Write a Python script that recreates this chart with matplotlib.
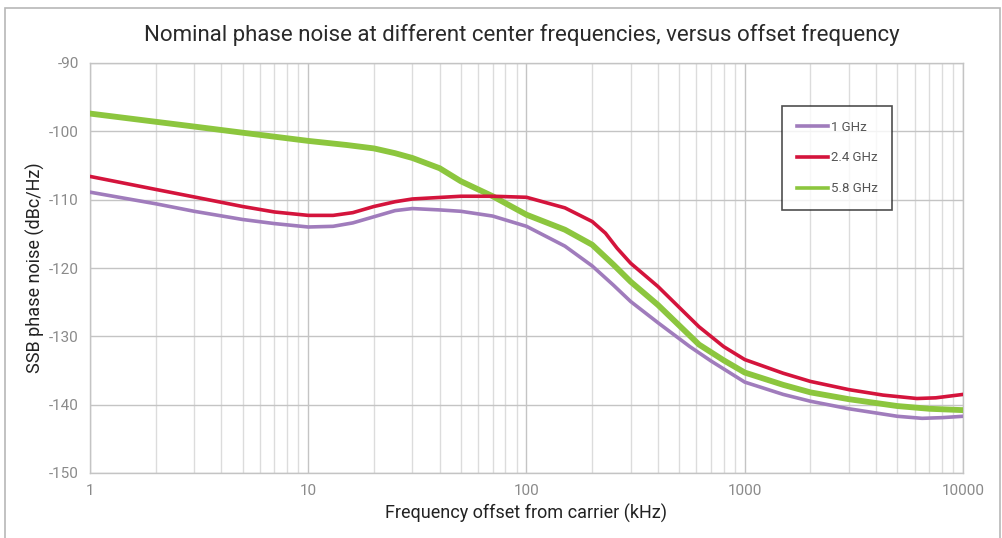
import matplotlib.pyplot as plt
from matplotlib.patches import Rectangle
from matplotlib.ticker import FixedLocator, NullFormatter

# Offset frequency (kHz) and SSB phase noise (dBc/Hz)
freq_1g = [1, 2, 3, 5, 7, 10, 13, 16, 20, 25, 30, 40, 50, 70, 100, 150, 200, 250, 300, 400,
           560, 700, 1000, 1500, 2000, 3000, 5000, 6500, 8000, 10000]
pn_1g = [-108.9, -110.6, -111.7, -112.9, -113.5, -114.0, -113.9, -113.4, -112.5, -111.6, -111.3,
         -111.5, -111.7, -112.4, -113.9, -116.8, -119.7, -122.5, -124.9, -128.0,
         -131.5, -133.6, -136.7, -138.5, -139.5, -140.6, -141.7, -142.0, -141.9, -141.7]

freq_2g4 = [1, 2, 3, 5, 7, 10, 13, 16, 20, 25, 30, 50, 70, 100, 150, 200, 230, 260, 300, 400,
            617, 800, 1000, 1500, 2000, 3000, 4300, 6150, 7500, 10000]
pn_2g4 = [-106.6, -108.5, -109.6, -111.0, -111.8, -112.3, -112.3, -111.9, -111.0, -110.3, -109.9,
          -109.5, -109.5, -109.65, -111.2, -113.2, -114.9, -117.1, -119.3, -122.7,
          -128.6, -131.5, -133.4, -135.4, -136.6, -137.8, -138.6, -139.1, -139.0, -138.5]

freq_5g8 = [1, 2, 3, 5, 10, 15, 20, 25, 30, 40, 50, 70, 100, 150, 200, 250, 300, 400,
            617, 800, 1000, 1500, 2000, 3000, 5000, 7000, 10000]
pn_5g8 = [-97.4, -98.6, -99.3, -100.2, -101.4, -102.0, -102.5, -103.2, -103.9, -105.4, -107.3,
          -109.5, -112.2, -114.4, -116.6, -119.5, -122.0, -125.4,
          -131.2, -133.5, -135.3, -137.1, -138.2, -139.2, -140.2, -140.6, -140.8]

x_ticks = [1, 10, 100, 1000, 10000]
x_ticklabels = ['1', '10', '100', '1000', '10000']
y_ticks = [-150, -140, -130, -120, -110, -100, -90]

plt.rcParams['font.family'] = ['Roboto', 'DejaVu Sans']
plt.rcParams['axes.unicode_minus'] = False

fig = plt.figure(figsize=(10.03, 5.38), dpi=100)
fig.patches.append(Rectangle((5 / 1003, -0.05), 995 / 1003, 1.05 - 8 / 538, transform=fig.transFigure,
                             fill=False, edgecolor='#b8b8b8', linewidth=1.2))

ax = fig.add_axes([90 / 1003, 1 - 473 / 538, 873 / 1003, 410 / 538])

ax.plot(freq_5g8, pn_5g8, color='#8cc63e', linewidth=4.2, label='5.8 GHz', zorder=3)
ax.plot(freq_2g4, pn_2g4, color='#d4143c', linewidth=2.6, label='2.4 GHz', zorder=4)
ax.plot(freq_1g, pn_1g, color='#a07cbc', linewidth=2.6, label='1 GHz', zorder=5)

ax.set_xscale('log')
ax.set_xlim(1, 10000)
ax.set_ylim(-150, -90)
ax.set_xticks(x_ticks)
ax.set_xticklabels(x_ticklabels)
ax.xaxis.set_minor_locator(FixedLocator([m * 10 ** d for d in range(4) for m in range(2, 10)]))
ax.xaxis.set_minor_formatter(NullFormatter())
ax.set_yticks(y_ticks)

ax.grid(True, which='major', color='#c4c4c4', linewidth=1.0)
ax.grid(True, which='minor', axis='x', color='#dcdcdc', linewidth=1.0)
ax.tick_params(which='both', length=0, labelsize=11, labelcolor='#8a8a8a', pad=8)
for s in ax.spines.values():
    s.set_color('#c4c4c4')
    s.set_linewidth(1.0)

ax.set_xlabel('Frequency offset from carrier (kHz)', fontsize=13, color='#222222', labelpad=4)
ax.set_ylabel('SSB phase noise (dBc/Hz)', fontsize=13, color='#222222')
ax.yaxis.set_label_coords(-0.052, 0.5)
fig.text(0.52, 1 - 35 / 538, 'Nominal phase noise at different center frequencies, versus offset frequency',
         ha='center', va='center', fontsize=16, color='#2a2a2a')

handles, labels = ax.get_legend_handles_labels()
leg = ax.legend(handles[::-1], labels[::-1], loc='upper left', bbox_to_anchor=(692 / 873, 1 - 43 / 410),
                fontsize=9.5, frameon=True, fancybox=False, handlelength=2.4, handletextpad=0.2,
                labelspacing=1.35, borderpad=1.1, borderaxespad=0)
leg.get_frame().set_edgecolor('#222222')
leg.get_frame().set_linewidth(1.2)
for line in leg.get_lines():
    line.set_linewidth(2.6)
for t in leg.get_texts():
    t.set_color('#555555')

plt.savefig('out.png', dpi=100)
